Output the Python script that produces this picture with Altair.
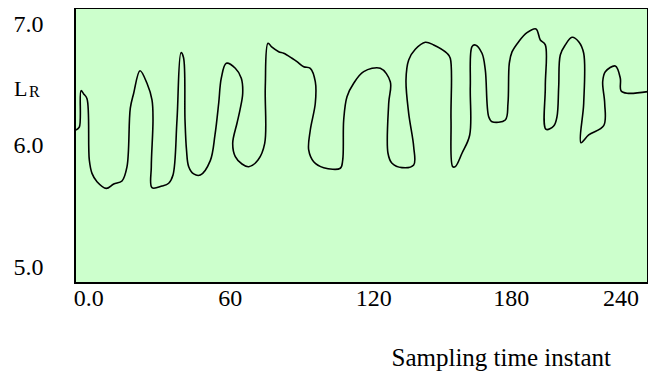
import altair as alt
import pandas as pd

# Sampling time instant (x) and L_R (y)
t = [-8.55, -7.08, -6.32, -5.12, -3.65, -2.62, -1.42, 0.81, 4.96, 8.26,
     11.96, 14.19, 15.66, 17.17, 19.98, 23.10, 25.33, 25.78, 25.02, 25.33,
     29.79, 32.78, 34.70, 36.48, 38.26, 39.38, 40.05, 40.72, 41.70, 43.93,
     46.87, 51.33, 53.42, 55.07, 56.23, 58.46, 62.48, 65.15, 65.78, 64.57,
     63.23, 61.32, 62.48, 65.46, 68.45, 72.60, 75.59, 75.85, 77.06, 78.84,
     81.83, 84.06, 87.76, 89.99, 92.98, 95.92, 98.15, 98.15, 95.92, 95.20,
     97.43, 101.89, 109.30, 110.37, 110.81, 112.28, 115.27, 119.73, 127.13, 131.59,
     130.88, 130.56, 132.35, 136.81, 142.02, 142.02, 139.79, 138.59, 139.79, 142.74,
     147.20, 150.94, 156.87, 158.34, 158.66, 159.42, 160.57, 163.56, 167.00, 167.26,
     168.02, 169.49, 172.48, 173.95, 175.47, 176.94, 182.87, 184.07, 184.65, 185.86,
     188.84, 192.55, 196.56, 198.48, 200.71, 200.71, 201.02, 204.45, 205.92, 206.68,
     207.39, 209.62, 212.61, 215.60, 217.83, 217.83, 216.62, 220.06, 226.75, 227.19,
     226.30, 227.46, 231.92, 234.15, 234.46, 237.14, 246.40]
lr = [6.132, 6.155, 6.457, 6.430, 6.391, 5.884, 5.774, 5.705, 5.650, 5.686,
      5.711, 5.829, 6.312, 6.436, 6.622, 6.518, 6.380, 6.215, 5.829, 5.655,
      5.669, 5.692, 5.760, 6.215, 6.771, 6.731, 6.215, 5.967, 5.829, 5.769,
      5.760, 5.879, 6.091, 6.353, 6.560, 6.683, 6.642, 6.560, 6.436, 6.298,
      6.188, 6.022, 5.912, 5.851, 5.829, 5.884, 6.022, 6.490, 6.849, 6.816,
      6.779, 6.766, 6.725, 6.697, 6.655, 6.642, 6.531, 6.353, 6.132, 5.967,
      5.870, 5.821, 5.816, 5.884, 6.215, 6.407, 6.518, 6.614, 6.642, 6.531,
      6.353, 5.940, 5.857, 5.821, 5.843, 5.994, 6.270, 6.545, 6.711, 6.799,
      6.857, 6.835, 6.766, 6.725, 6.215, 5.829, 5.829, 5.940, 6.091, 6.490,
      6.821, 6.835, 6.766, 6.628, 6.242, 6.201, 6.215, 6.353, 6.683, 6.777,
      6.862, 6.936, 6.967, 6.876, 6.835, 6.490, 6.138, 6.165, 6.242, 6.490,
      6.752, 6.835, 6.898, 6.862, 6.766, 6.353, 6.027, 6.091, 6.168, 6.353,
      6.531, 6.614, 6.661, 6.560, 6.457, 6.436, 6.449]

x_ticks = [0, 60, 120, 180, 240]
y_ticks = [5.0, 6.0, 7.0]

FONT = "Liberation Serif"

df = pd.DataFrame({"i": list(range(len(t))), "t": t, "lr": lr})

line = alt.Chart(df).mark_line(
    color="black", strokeWidth=1.6, interpolate="catmull-rom"
).encode(
    x=alt.X("t:Q",
            scale=alt.Scale(domain=[-9, 246.5], nice=False, zero=False),
            axis=alt.Axis(
                values=x_ticks,
                labelExpr="datum.value == 0 ? '0.0' : format(datum.value, 'd')",
                labelOffset={"expr": "datum.value == 0 ? -7 : datum.value == 120 ? 9 : datum.value == 180 ? 12 : datum.value == 240 ? -13 : 0"},
                ticks=False, tickSize=0, domain=False, grid=False,
                labelFont=FONT, labelFontSize=24, labelColor="black",
                labelBaseline="top", labelPadding=3, labelFlush=False,
                labelOverlap=False,
                title="Sampling time instant",
                titleFont=FONT, titleFontSize=25, titleFontWeight="normal",
                titleColor="black", titleAlign="left", titleAnchor="start",
                titleX=316, titleY=82, titleBaseline="alphabetic",
            )),
    y=alt.Y("lr:Q",
            scale=alt.Scale(domain=[4.868, 7.140], nice=False, zero=False),
            axis=alt.Axis(
                values=y_ticks, format=".1f",
                ticks=False, tickSize=0, domain=False, grid=False,
                labelFont=FONT, labelFontSize=24, labelColor="black",
                labelPadding=32, labelFlush=False, labelOverlap=False,
                title=None,
            )),
    order="i:Q",
)

lab = pd.DataFrame({"s": ["L"]})
lab_r = pd.DataFrame({"s": ["R"]})
l_text = alt.Chart(lab).mark_text(
    font=FONT, fontSize=22, align="left", baseline="alphabetic", color="black"
).encode(text="s:N", x=alt.value(-61), y=alt.value(88))
r_text = alt.Chart(lab_r).mark_text(
    font=FONT, fontSize=16, align="left", baseline="alphabetic", color="black"
).encode(text="s:N", x=alt.value(-46), y=alt.value(89))

chart = alt.layer(line, l_text, r_text).properties(
    width=573, height=275,
    autosize=alt.AutoSizeParams(type="none"),
    padding={"left": 67, "top": 0, "right": 0, "bottom": 93},
    background="white",
).configure_view(
    fill="#ccffcc", stroke="black", strokeWidth=2
)

chart.save("out.html", embed_options={"renderer": "svg", "actions": False})
